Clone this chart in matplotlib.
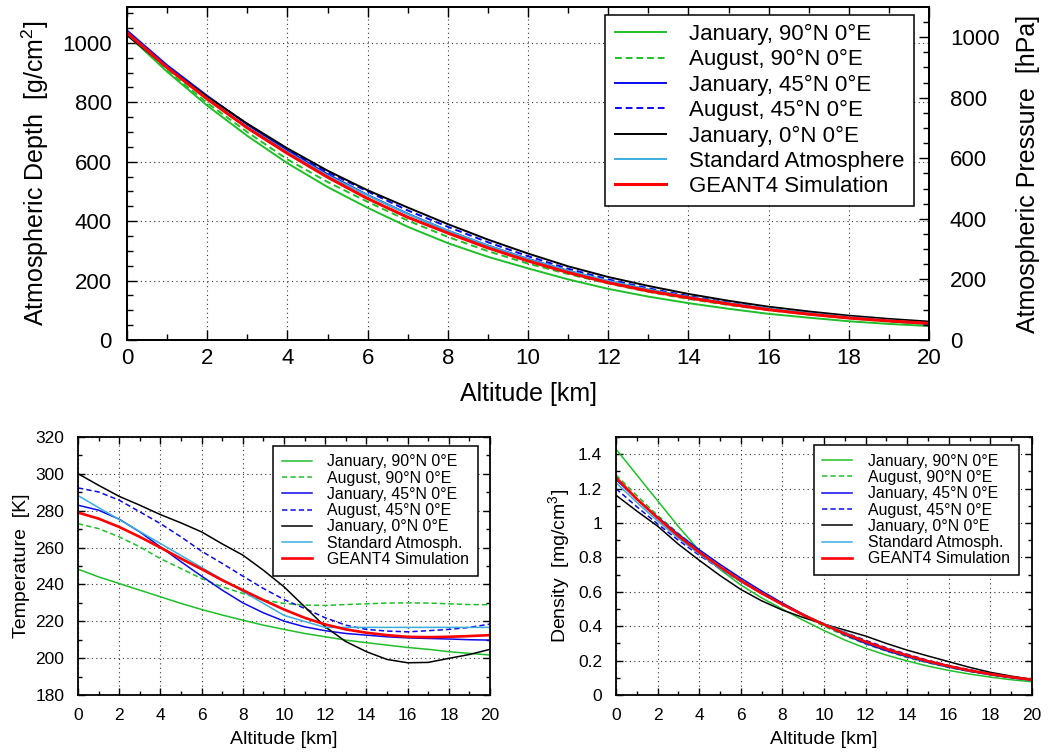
import numpy as np
import matplotlib
matplotlib.use("Agg")
import matplotlib.pyplot as plt
from matplotlib.ticker import MultipleLocator

plt.rcParams['font.family'] = ['Liberation Sans', 'DejaVu Sans']
plt.rcParams['mathtext.fontset'] = 'custom'
plt.rcParams['mathtext.rm'] = 'Liberation Sans'

altitude = [0, 1, 2, 3, 4, 5, 6, 7, 8, 9, 10, 11, 12, 13, 14, 15, 16, 17, 18, 19, 20]

labels_top = ["January, 90°N 0°E", "August, 90°N 0°E", "January, 45°N 0°E",
              "August, 45°N 0°E", "January, 0°N 0°E", "Standard Atmosphere",
              "GEANT4 Simulation"]
labels_bot = labels_top[:5] + ["Standard Atmosph.", "GEANT4 Simulation"]

# atmospheric depth [g/cm2]
depth_jan90 = [1029, 903, 789, 687, 595, 515, 445, 381, 326, 280, 241, 204, 172, 146, 124, 105, 88, 75, 63, 54, 47]
depth_aug90 = [1028, 907, 798, 700, 608, 532, 465, 402, 347, 299, 257, 222, 190, 162, 138, 118, 100, 86, 73, 62, 53]
depth_jan45 = [1042, 925, 822, 725, 638, 558, 488, 425, 368, 318, 273, 233, 198, 169, 144, 122, 104, 88, 75, 64, 54]
depth_aug45 = [1035, 920, 820, 727, 642, 565, 500, 436, 381, 329, 282, 240, 204, 174, 148, 126, 107, 92, 79, 68, 60]
depth_jan0 = [1026, 917, 819, 728, 645, 570, 504, 446, 390, 338, 291, 248, 212, 182, 155, 132, 112, 96, 82, 71, 62]
depth_std = [1033, 916, 813, 717, 633, 554, 487, 424, 368, 318, 272, 233, 199, 170, 145, 124, 106, 90, 77, 66, 56]
depth_g4 = [1034, 917, 811, 714, 628, 548, 476, 413, 360, 310, 266, 227, 193, 165, 142, 121, 102, 87, 74, 64, 56]

# temperature [K]
temp_jan90 = [248.3, 244.1, 240.5, 236.9, 233.3, 229.7, 226.4, 223.4, 220.6, 217.9, 215.6, 213.4, 211.6, 209.8, 208.4, 207.1, 205.8, 204.8, 203.5, 202.6, 201.7]
temp_aug90 = [273.0, 270.3, 265.8, 260.4, 254.0, 248.6, 243.2, 238.7, 235.1, 231.5, 229.7, 228.8, 228.6, 229.1, 229.5, 229.9, 230.0, 229.9, 229.5, 229.1, 229.0]
temp_jan45 = [283.0, 280.3, 275.4, 268.5, 260.4, 252.3, 244.5, 236.9, 230.0, 224.6, 220.1, 217.0, 214.9, 213.4, 212.5, 211.6, 211.0, 210.7, 210.4, 210.0, 209.8]
temp_aug45 = [292.4, 290.2, 285.7, 279.4, 273.0, 265.8, 258.0, 251.4, 244.5, 237.8, 231.8, 227.0, 221.9, 217.9, 215.6, 214.7, 214.3, 214.9, 215.6, 216.7, 218.5]
temp_jan0 = [300.1, 293.8, 287.8, 283.0, 277.9, 273.4, 268.5, 262.0, 255.9, 247.7, 238.7, 227.9, 217.0, 209.0, 203.5, 199.3, 197.5, 197.7, 199.9, 202.0, 204.8]
temp_std = [288.2, 281.7, 275.2, 268.7, 262.2, 255.7, 249.2, 242.7, 236.2, 229.7, 223.2, 219.9, 216.7, 216.7, 216.7, 216.7, 216.7, 216.7, 216.7, 216.7, 216.7]
temp_g4 = [279.0, 275.7, 271.2, 265.8, 260.0, 254.0, 248.3, 242.3, 236.9, 231.5, 226.4, 221.9, 218.3, 215.6, 213.8, 212.5, 211.6, 211.4, 211.6, 212.0, 212.5]

# density [mg/cm3]
dens_jan90 = [1.43, 1.28, 1.13, 0.98, 0.84, 0.73, 0.64, 0.565, 0.50, 0.435, 0.375, 0.32, 0.272, 0.232, 0.198, 0.168, 0.143, 0.122, 0.104, 0.089, 0.077]
dens_aug90 = [1.28, 1.16, 1.045, 0.94, 0.843, 0.755, 0.672, 0.597, 0.528, 0.462, 0.40, 0.345, 0.297, 0.255, 0.218, 0.187, 0.160, 0.137, 0.117, 0.10, 0.085]
dens_jan45 = [1.253, 1.14, 1.035, 0.935, 0.845, 0.76, 0.68, 0.605, 0.535, 0.47, 0.41, 0.35, 0.30, 0.258, 0.222, 0.19, 0.162, 0.138, 0.118, 0.10, 0.086]
dens_aug45 = [1.20, 1.095, 0.995, 0.90, 0.813, 0.735, 0.66, 0.59, 0.525, 0.465, 0.415, 0.365, 0.318, 0.275, 0.237, 0.202, 0.172, 0.147, 0.125, 0.106, 0.09]
dens_jan0 = [1.162, 1.07, 0.982, 0.877, 0.784, 0.695, 0.614, 0.548, 0.494, 0.451, 0.412, 0.378, 0.343, 0.30, 0.261, 0.227, 0.194, 0.161, 0.132, 0.11, 0.091]
dens_std = [1.235, 1.12, 1.012, 0.912, 0.82, 0.736, 0.66, 0.59, 0.526, 0.467, 0.414, 0.365, 0.312, 0.267, 0.228, 0.195, 0.166, 0.142, 0.122, 0.104, 0.089]
dens_g4 = [1.265, 1.14, 1.03, 0.925, 0.83, 0.745, 0.665, 0.592, 0.527, 0.466, 0.41, 0.357, 0.31, 0.268, 0.23, 0.197, 0.168, 0.143, 0.122, 0.104, 0.089]

GREEN = '#1fbf2a'
BLUE = '#0a0aee'
CYAN = '#3aaee0'
RED = '#ff0000'
dash = (0, (3.5, 2))
styles = [(GREEN, '-'), (GREEN, dash), (BLUE, '-'), (BLUE, dash),
          ('black', '-'), (CYAN, '-'), (RED, '-')]


def setup(ax, fs, major, minor, xpad, ypad):
    ax.set_xlim(0, 20)
    ax.xaxis.set_major_locator(MultipleLocator(2))
    ax.xaxis.set_minor_locator(MultipleLocator(1))
    ax.grid(True, which='major', color='#333333', linestyle=(0, (1, 3)), linewidth=0.8)
    ax.tick_params(which='both', direction='in', labelsize=fs, width=1.0)
    ax.tick_params(which='major', length=major)
    ax.tick_params(which='minor', length=minor)
    ax.tick_params(axis='x', which='both', pad=xpad)
    ax.tick_params(axis='y', which='both', pad=ypad)
    for s in ax.spines.values():
        s.set_linewidth(1.3)


def add_legend(ax, labels, anchor, fs, hl, htp, ls, bp):
    leg = ax.legend(labels=labels, loc='upper right', bbox_to_anchor=anchor, fontsize=fs,
                    frameon=True, fancybox=False, edgecolor='black', framealpha=1,
                    handlelength=hl, handletextpad=htp, labelspacing=ls, borderpad=bp,
                    borderaxespad=0)
    leg.get_frame().set_linewidth(1.1)


fig = plt.figure(figsize=(10.56, 7.53), dpi=100)

# top: atmospheric depth
ax = fig.add_axes([0.1203, 0.5485, 0.7595, 0.4422])
series = [depth_jan90, depth_aug90, depth_jan45, depth_aug45, depth_jan0, depth_std, depth_g4]
for ys, (c, ls) in zip(series, styles):
    ax.plot(altitude, ys, color=c, linestyle=ls, lw=2.2 if c == RED else 1.4)
setup(ax, 16, 7, 4, 6, 11)
ax.set_ylim(0, 1121)
ax.yaxis.set_major_locator(MultipleLocator(200))
ax.yaxis.set_minor_locator(MultipleLocator(50))
ax.tick_params(which='both', top=True, right=False)
ax.set_xlabel("Altitude [km]", fontsize=18, labelpad=9)
ax.set_ylabel("Atmospheric Depth  [g/cm$\\mathregular{^2}$]", fontsize=18, labelpad=8)
add_legend(ax, labels_top, (0.981, 0.977), 16, 2.3, 1.05, 0.19, 0.42)

ax2 = ax.twinx()
ax2.set_ylim(0, 1121 * 0.980665)
ax2.yaxis.set_major_locator(MultipleLocator(200))
ax2.yaxis.set_minor_locator(MultipleLocator(50))
ax2.tick_params(which='both', direction='in', labelsize=16, width=1.0, pad=15)
ax2.tick_params(which='major', length=7)
ax2.tick_params(which='minor', length=4)
ax2.set_ylabel("Atmospheric Pressure  [hPa]", fontsize=18, labelpad=12)
for s in ax2.spines.values():
    s.set_linewidth(1.3)

# bottom left: temperature
axt = fig.add_axes([0.0739, 0.0770, 0.3902, 0.3426])
series = [temp_jan90, temp_aug90, temp_jan45, temp_aug45, temp_jan0, temp_std, temp_g4]
for ys, (c, ls) in zip(series, styles):
    axt.plot(altitude, ys, color=c, linestyle=ls, lw=1.9 if c == RED else 1.1)
setup(axt, 12.5, 5, 3, 9, 10)
axt.set_ylim(180, 320)
axt.yaxis.set_major_locator(MultipleLocator(20))
axt.yaxis.set_minor_locator(MultipleLocator(10))
axt.tick_params(which='both', top=True, right=True)
axt.set_xlabel("Altitude [km]", fontsize=14, labelpad=6)
axt.set_ylabel("Temperature  [K]", fontsize=14, labelpad=4)
add_legend(axt, labels_bot, (0.971, 0.967), 11.4, 1.9, 1.0, 0.08, 0.55)

# bottom right: density
axd = fig.add_axes([0.5833, 0.0770, 0.3939, 0.3426])
series = [dens_jan90, dens_aug90, dens_jan45, dens_aug45, dens_jan0, dens_std, dens_g4]
for ys, (c, ls) in zip(series, styles):
    axd.plot(altitude, ys, color=c, linestyle=ls, lw=1.9 if c == RED else 1.1)
setup(axd, 12.5, 5, 3, 9, 10)
axd.set_ylim(0, 1.5)
axd.yaxis.set_major_locator(MultipleLocator(0.2))
axd.yaxis.set_minor_locator(MultipleLocator(0.1))
axd.yaxis.set_major_formatter(lambda v, p: "0" if abs(v) < 1e-9 else ("1" if abs(v - 1) < 1e-9 else "%.1f" % v))
axd.tick_params(which='both', top=True, right=True)
axd.set_xlabel("Altitude [km]", fontsize=14, labelpad=6)
axd.set_ylabel("Density  [mg/cm$\\mathregular{^3}$]", fontsize=14, labelpad=4)
add_legend(axd, labels_bot, (0.969, 0.969), 11.4, 1.9, 1.0, 0.08, 0.55)

fig.savefig("out.png", dpi=100)
